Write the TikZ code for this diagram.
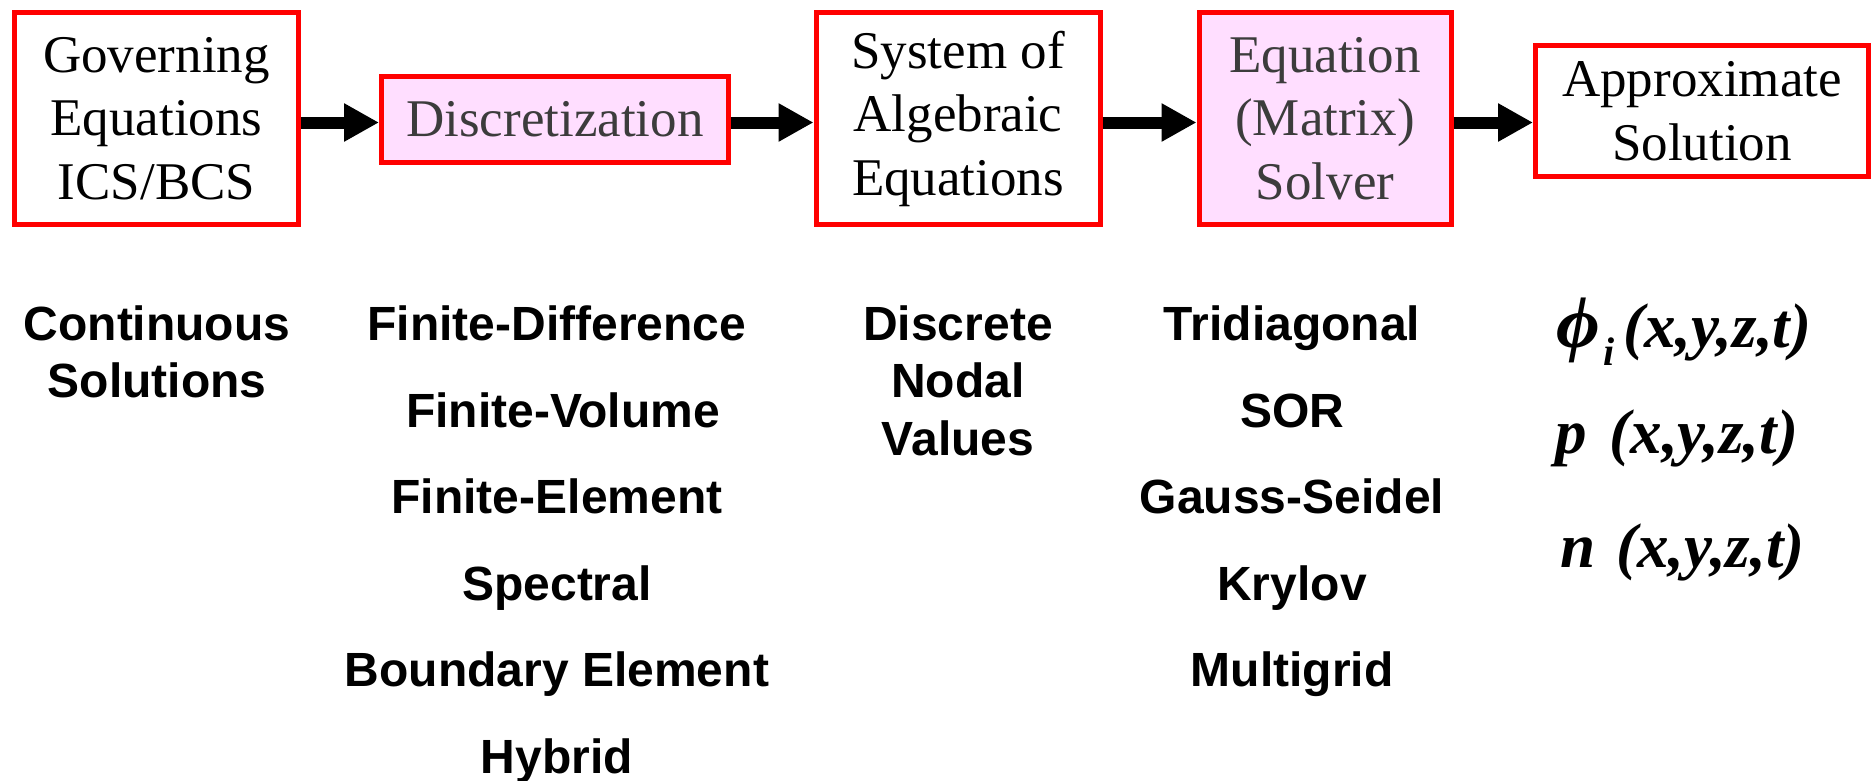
\documentclass[tikz,border=0pt]{standalone}
\usepackage{fontspec}
\setmainfont{Liberation Serif}
\setsansfont{Liberation Sans}
\usetikzlibrary{arrows.meta}
\definecolor{boxred}{RGB}{255,0,0}
\definecolor{boxpink}{RGB}{255,222,255}
\definecolor{darktext}{RGB}{60,60,60}
\begin{document}
\begin{tikzpicture}[x=1pt,y=-1pt]
\tikzset{
  box/.style={draw=boxred, line width=5pt, fill=white, align=center, inner sep=0pt,
    font=\fontsize{53}{63.5}\selectfont},
  pinkbox/.style={box, fill=boxpink, text=darktext},
  flow/.style={line width=12pt, -{Triangle[length=35pt,width=36pt]}},
  lbl/.style={anchor=base, inner sep=0pt, font=\sffamily\bfseries\fontsize{48}{57}\selectfont},
  mathlbl/.style={anchor=base west, inner sep=0pt, font=\bfseries\itshape\fontsize{63}{70}\selectfont}
}
\useasboundingbox (0,0) rectangle (1875,780);
% boxes
\node[box, minimum width=284, minimum height=212] (gov) at (156.5,118.5) {Governing\\Equations\\ICS/BCS};
\node[pinkbox, minimum width=347, minimum height=86] (disc) at (555,119.5) {Discretization};
\node[box, minimum width=284, minimum height=212] (sys) at (958,118.5) {System of\\Algebraic\\Equations};
\node[pinkbox, minimum width=252, minimum height=212] (solv) at (1325,118.5) {Equation\\(Matrix)\\Solver};
\node[box, minimum width=333, minimum height=131] (appr) at (1702,111) {Approximate\\Solution};
% arrows
\draw[flow] (gov.east |- 0,122.5) -- (disc.west |- 0,122.5);
\draw[flow] (disc.east |- 0,122.5) -- (sys.west |- 0,122.5);
\draw[flow] (sys.east |- 0,122.5) -- (solv.west |- 0,122.5);
\draw[flow] (solv.east |- 0,122.5) -- (appr.west |- 0,122.5);
% column 1
\node[lbl] (cs1) at (157,340) {Continuous};
\node[lbl] (cs2) at (157,397) {Solutions};
% column 2
\node[lbl] (m1) at (557,340) {Finite-Difference};
\node[lbl] (m2) at (563,427) {Finite-Volume};
\node[lbl] (m3) at (557,513) {Finite-Element};
\node[lbl] (m4) at (557,600) {Spectral};
\node[lbl] (m5) at (557,686) {Boundary Element};
\node[lbl] (m6) at (557,773) {Hybrid};
% column 3
\node[lbl] (d1) at (958,340) {Discrete};
\node[lbl] (d2) at (958,397) {Nodal};
\node[lbl] (d3) at (958,455) {Values};
% column 4
\node[lbl] (s1) at (1292,340) {Tridiagonal};
\node[lbl] (s2) at (1292,427) {SOR};
\node[lbl] (s3) at (1292,513) {Gauss-Seidel};
\node[lbl] (s4) at (1292,600) {Krylov};
\node[lbl] (s5) at (1292,686) {Multigrid};
% column 5
\node[mathlbl] (v1) at (1556,347) {\scalebox{1.2}[1.15]{\symbol{"03D5}}\hspace{4pt}\raisebox{-18pt}{\fontsize{40}{40}\selectfont i}\hspace{8pt}(x,y,z,t)};
\node[mathlbl] (v2) at (1555,453) {p\hspace{23pt}(x,y,z,t)};
\node[mathlbl] (v3) at (1560,567) {n\hspace{21pt}(x,y,z,t)};
\end{tikzpicture}
\end{document}
